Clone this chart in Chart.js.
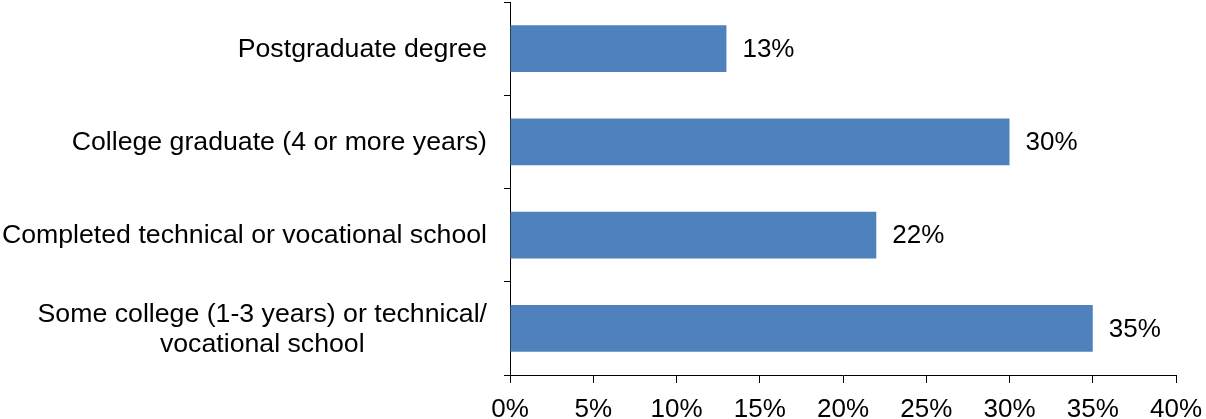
<!DOCTYPE html>
<html>
<head>
<meta charset="utf-8">
<script src="https://cdn.jsdelivr.net/npm/chart.js@4.4.0/dist/chart.umd.min.js"></script>
<style>
  html, body { margin: 0; padding: 0; background: #fff; }
  #wrap { width: 1206px; height: 419px; }
</style>
</head>
<body>
<div id="wrap"><canvas id="edu" width="1206" height="419"></canvas></div>
<script>
const ctx = document.getElementById('edu');
const eduLabels = [
    ['Postgraduate degree'],
    ['College graduate (4 or more years)'],
    ['Completed technical or vocational school'],
    ['Some college (1-3 years) or technical/', 'vocational school']
];
const eduValues = [13, 30, 22, 35];
const axisMax = 40;
const axisStep = 5;
const fontName = '"Liberation Sans", Arial, sans-serif';

// value labels at bar ends
const valueLabels = {
    id: 'valueLabels',
    afterDatasetsDraw(chart) {
        const c = chart.ctx;
        const meta = chart.getDatasetMeta(0);
        c.save();
        c.font = '26px ' + fontName;
        c.fillStyle = '#000';
        c.textAlign = 'left';
        c.textBaseline = 'middle';
        meta.data.forEach((bar, i) => {
            c.fillText(eduValues[i] + '%', bar.x + 16, bar.y + 1);
        });
        c.restore();
    }
};

// category labels, lines centered to each other like excel
const catLabels = {
    id: 'catLabels',
    afterDraw(chart) {
        const c = chart.ctx;
        const y = chart.scales.y;
        const right = y.right - 23;
        const lh = 30;
        c.save();
        c.font = '26.7px ' + fontName;
        c.fillStyle = '#000';
        c.textAlign = 'center';
        c.textBaseline = 'middle';
        eduLabels.forEach((lines, i) => {
            const w = Math.max(...lines.map(l => c.measureText(l).width));
            const cx = right - w / 2;
            const cy = y.getPixelForValue(i);
            const y0 = cy - (lines.length - 1) * lh / 2;
            lines.forEach((l, j) => c.fillText(l, cx, y0 + j * lh + 1));
        });
        c.restore();
    }
};

new Chart(ctx, {
    type: 'bar',
    data: {
        labels: eduLabels,
        datasets: [{
            data: eduValues,
            backgroundColor: '#4f81bd',
            borderWidth: 0,
            categoryPercentage: 1,
            barPercentage: 0.5
        }]
    },
    options: {
        indexAxis: 'y',
        responsive: false,
        animation: false,
        layout: { padding: { top: 2, right: 30, left: 0, bottom: 0 } },
        plugins: {
            legend: { display: false },
            tooltip: { enabled: false }
        },
        scales: {
            x: {
                min: 0,
                max: axisMax,
                ticks: {
                    stepSize: axisStep,
                    color: '#000',
                    padding: 11,
                    font: { family: fontName, size: 26 },
                    callback: v => v + '%'
                },
                grid: { drawOnChartArea: false, tickLength: 8, color: '#000' },
                border: { color: '#000', width: 1 },
                afterFit: s => {
                    s.height = 44;
                    s.paddingLeft = 0;
                    s.paddingRight = 0;
                }
            },
            y: {
                ticks: { display: false },
                grid: { drawOnChartArea: false, tickLength: 6, color: '#000', offset: true },
                border: { color: '#000', width: 1 },
                afterFit: s => { s.width = 510; }
            }
        }
    },
    plugins: [valueLabels, catLabels]
});
</script>
</body>
</html>
